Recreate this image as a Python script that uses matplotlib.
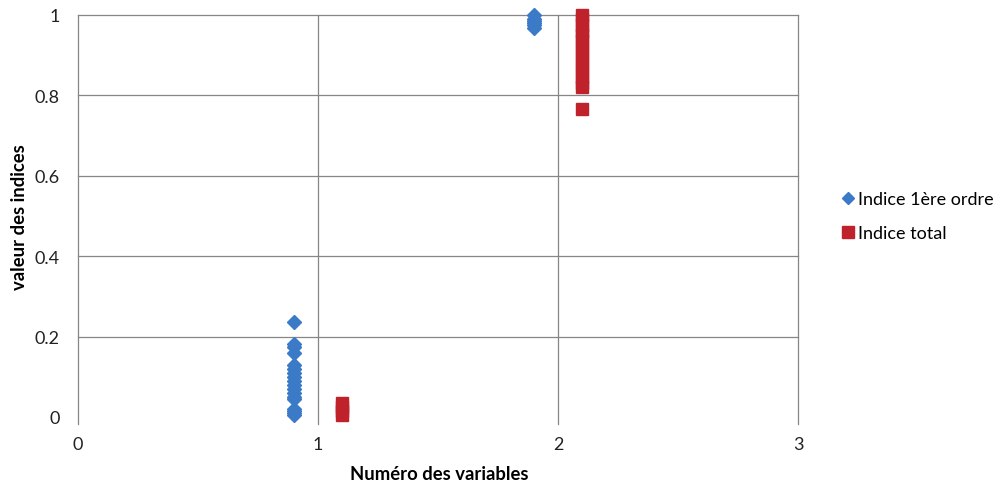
import matplotlib.pyplot as plt

plt.rcParams['font.family'] = ['Lato', 'DejaVu Sans']

# Indice de 1ère ordre (variable 1 et 2)
x_premier = [0.9] * 18 + [1.9] * 6
y_premier = [0.237, 0.182, 0.175, 0.16, 0.13, 0.12, 0.11, 0.1, 0.09, 0.08,
             0.07, 0.06, 0.05, 0.045, 0.02, 0.015, 0.01, 0.004,
             0.968, 0.975, 0.98, 0.985, 0.99, 1.0]

# Indice total
x_total = [1.1] * 4 + [2.1] * 15
y_total = [0.005, 0.015, 0.025, 0.036,
           0.766, 0.82, 0.83, 0.845, 0.86, 0.875, 0.89, 0.905, 0.92,
           0.935, 0.95, 0.96, 0.975, 0.99, 1.0]

bleu = '#3a7ac6'
rouge = '#c0222b'
gris = '#868686'

fig = plt.figure(figsize=(9.97, 4.89), dpi=100)
ax = fig.add_axes([0.0782, 0.1452, 0.7222, 0.8221])

# grille façon Excel : pas de ligne à 0 en horizontal
for yv in [0.2, 0.4, 0.6, 0.8, 1.0]:
    ax.axhline(yv, color=gris, lw=0.9, zorder=1, clip_on=False)
for xv in [0, 1, 2, 3]:
    ax.axvline(xv, ymin=-0.018, ymax=1, color=gris, lw=0.9, zorder=1, clip_on=False)

ax.plot(x_premier, y_premier, linestyle='none', marker='D', ms=6.8,
        color=bleu, mec=bleu, label='Indice 1ère ordre', zorder=3, clip_on=False)
ax.plot(x_total, y_total, linestyle='none', marker='s', ms=8.5,
        color=rouge, mec=rouge, label='Indice total', zorder=3, clip_on=False)

ax.set_xlim(0, 3)
ax.set_ylim(0, 1)
ax.set_xticks([0, 1, 2, 3])
ax.set_yticks([0, 0.2, 0.4, 0.6, 0.8, 1])
ax.set_yticklabels(['0', '0.2', '0.4', '0.6', '0.8', '1'])
ax.tick_params(length=0, labelsize=13, labelcolor='#222222')
ax.tick_params(axis='y', pad=13)
ax.tick_params(axis='x', pad=14)
for s in ax.spines.values():
    s.set_visible(False)

# titres des axes placés à la main
fig.text(439 / 997, 1 - 475 / 489, 'Numéro des variables', fontsize=13.3,
         fontweight='bold', ha='center', va='center')
fig.text(20 / 997, 1 - 217 / 489, 'valeur des indices', fontsize=13.3,
         fontweight='bold', ha='center', va='center', rotation=90)

ax.legend(loc='center left', bbox_to_anchor=(0.828, 0.556), bbox_transform=fig.transFigure,
          frameon=False, fontsize=13, handlelength=0.7, handletextpad=0.2,
          labelspacing=1.0, markerscale=0.95)

fig.savefig('out.png', dpi=100)
